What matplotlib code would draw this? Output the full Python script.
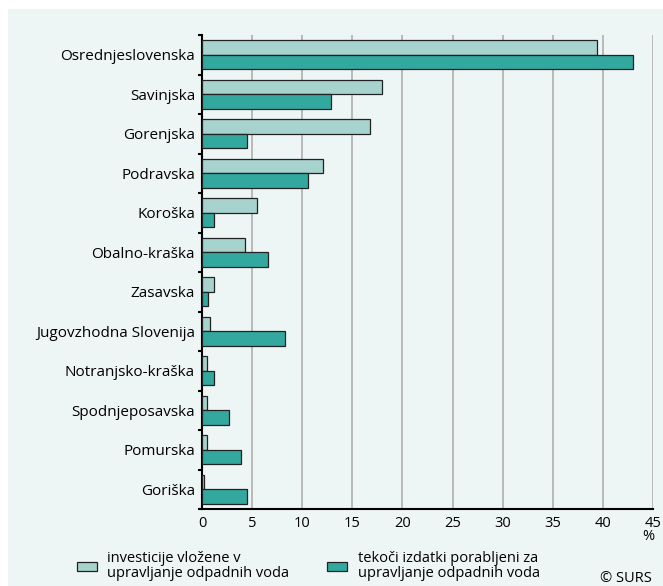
import matplotlib
matplotlib.use("Agg")
import matplotlib.pyplot as plt
from matplotlib.patches import Rectangle
import numpy as np

plt.rcParams['font.family'] = ['Open Sans', 'DejaVu Sans']

regions = ["Osrednjeslovenska", "Savinjska", "Gorenjska", "Podravska", "Koroška",
           "Obalno-kraška", "Zasavska", "Jugovzhodna Slovenija", "Notranjsko-kraška",
           "Spodnjeposavska", "Pomurska", "Goriška"]
investicije = [39.4, 18.0, 16.8, 12.1, 5.5, 4.3, 1.2, 0.8, 0.5, 0.5, 0.5, 0.2]
tekoci = [43.0, 12.9, 4.5, 10.6, 1.2, 6.6, 0.6, 8.3, 1.2, 2.7, 3.85, 4.5]
xticks = [0, 5, 10, 15, 20, 25, 30, 35, 40, 45]
legend_labels = ["investicije vložene v\nupravljanje odpadnih voda",
                 "tekoči izdatki porabljeni za\nupravljanje odpadnih voda"]

bg = "#EEF6F5"
c_light = "#A6D3CD"
c_dark = "#33A89E"

W, H = 663, 586
fig = plt.figure(figsize=(W/100, H/100), dpi=100)
fig.patch.set_facecolor("white")
fig.patches.append(Rectangle((8/W, 0), 1 - 8/W, 1 - 9/H, transform=fig.transFigure,
                             facecolor=bg, edgecolor="none", zorder=-10))

ax = fig.add_axes([202/W, 1 - 509/H, (653-202)/W, (509-35)/H])
ax.set_facecolor(bg)

n = len(regions)
y = np.arange(n)
h = 0.37
ax.barh(y - h/2, investicije, height=h, color=c_light, edgecolor="#222222", linewidth=0.9, zorder=3)
ax.barh(y + h/2, tekoci, height=h, color=c_dark, edgecolor="#222222", linewidth=0.9, zorder=3)

ax.set_ylim(n - 0.5, -0.5)
ax.set_xlim(0, 45)
ax.set_yticks(y)
ax.set_yticklabels(regions, fontsize=11)
ax.tick_params(axis='y', length=0, pad=5)
ax.set_yticks(np.arange(-0.5, n, 1), minor=True)
ax.tick_params(axis='y', which='minor', length=3, width=1.5, direction='out')

ax.set_xticks(xticks)
ax.set_xticklabels([str(t) for t in xticks], fontsize=10.5)
ax.tick_params(axis='x', length=0, pad=5)
for t in xticks[1:]:
    ax.axvline(t, color="#AAAAAA", linewidth=1.1 if t < 45 else 1.8, zorder=1)

for s in ["top", "right"]:
    ax.spines[s].set_visible(False)
ax.spines["left"].set_linewidth(1.5)
ax.spines["bottom"].set_linewidth(1.5)

fig.text(648/W, 1 - 537/H, "%", fontsize=10.5, ha="center", va="center")

# legend
for i, (lx, tx) in enumerate([(77, 107), (327, 358)]):
    fig.patches.append(Rectangle((lx/W, 1 - 571/H), 20/W, 9/H, transform=fig.transFigure,
                                 facecolor=[c_light, c_dark][i], edgecolor="#222222",
                                 linewidth=0.9))
    fig.text(tx/W, 1 - 566/H, legend_labels[i], fontsize=10.5, ha="left", va="center",
             linespacing=1.05)

fig.text(652/W, 1 - 579/H, "© SURS", fontsize=10.5, ha="right", va="center")

fig.savefig("out.png", dpi=100, facecolor=fig.get_facecolor())
